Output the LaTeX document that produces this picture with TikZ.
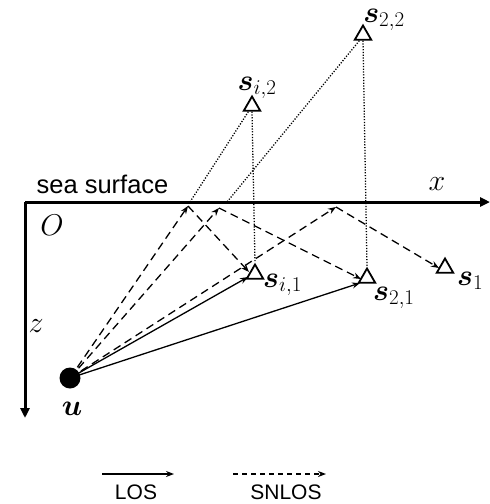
\RequirePackage{fix-cm}
\documentclass[tikz,border=0pt]{standalone}
\usepackage{amsmath,bm}
\usepackage{fontspec}
\newfontfamily\arialf{Liberation Sans}
\usetikzlibrary{arrows.meta,shapes.geometric}
\begin{document}
\begin{tikzpicture}[x=1pt,y=-1pt,
  axis/.style={line width=3pt,-{Triangle[length=10pt,width=9pt]}},
  ray/.style={line width=1.3pt,-{Stealth[length=8pt,width=6pt]}},
  sray/.style={ray,dash pattern=on 8pt off 5pt},
  dray/.style={line width=1.3pt,dash pattern=on 1.2pt off 1.6pt},
  sensor/.style={draw,line width=1.8pt,regular polygon,regular polygon sides=3,inner sep=0pt,minimum size=19pt},
  mlab/.style={font=\fontsize{30}{36}\selectfont,inner sep=0pt},
  slab/.style={font=\arialf\fontsize{25.5}{30}\selectfont,inner sep=0pt}]
\useasboundingbox (0,0) rectangle (490,504);
% axes
\coordinate (O) at (25,202);
\coordinate (xe) at (490,202);
\coordinate (ze) at (25,418);
\draw[axis] (O) -- (xe);
\draw[axis] (O) -- (ze);
\node[slab] (sea) at (102.5,184) {sea surface};
\node[mlab,anchor=base] (xl) at (437,190) {$x$};
\node[mlab,anchor=base] (Ol) at (52,235) {$O$};
\node[mlab,anchor=base] (zl) at (36,332) {$z$};
% source
\node[circle,fill=black,inner sep=0pt,minimum size=21pt] (u) at (70,378) {};
\node[mlab,anchor=base] (ul) at (72,415) {$\bm{u}$};
% sensors
\node[sensor] (si1) at (255,274) {};
\node[sensor] (s21) at (367,278) {};
\node[sensor] (s1) at (445,268) {};
\node[sensor] (si2) at (252,106) {};
\node[sensor] (s22) at (363,35) {};
\node[mlab,anchor=base west] (si1l) at (263,287) {$\bm{s}_{i,1}$};
\node[mlab,anchor=base west] (s21l) at (373,300) {$\bm{s}_{2,1}$};
\node[mlab,anchor=base west] (s1l) at (457,285) {$\bm{s}_{1}$};
\node[mlab,anchor=base] (si2l) at (257,90) {$\bm{s}_{i,2}$};
\node[mlab,anchor=base] (s22l) at (384,22) {$\bm{s}_{2,2}$};
% reflection points
\coordinate (r1) at (188,206);
\coordinate (r2) at (219,208);
\coordinate (r3) at (336,207);
\coordinate (q1) at (190,202);
\coordinate (q2) at (227,202);
% ends
\coordinate (e1) at (249,272);
\coordinate (e2) at (361,279);
\coordinate (e3) at (439,268);
\coordinate (l1) at (248,277);
\coordinate (l2) at (360,283);
% LOS
\draw[ray] (u.center) -- (l1);
\draw[ray] (u.center) -- (l2);
% SNLOS
\draw[sray] (u.center) -- (r1);
\draw[sray] (u.center) -- (r2);
\draw[sray] (u.center) -- (r3);
\draw[sray] (r1) -- (e1);
\draw[sray] (r2) -- (e2);
\draw[sray] (r3) -- (e3);
% image lines
\draw[dray] (si2.south) -- (si1.north);
\draw[dray] (s22.south) -- (s21.north);
\draw[dray] (si2.south west) ++(2,0) -- (q1);
\draw[dray] (s22.south west) ++(2,0) -- (q2);
% legend
\coordinate (a1) at (102,474);
\coordinate (a2) at (174,474);
\coordinate (b1) at (233,474);
\coordinate (b2) at (326,474);
\draw[ray] (a1) -- (a2);
\draw[sray,dash pattern=on 5pt off 4pt] (b1) -- (b2);
\node[slab,font=\arialf\fontsize{21}{25}\selectfont] (los) at (136,492) {LOS};
\node[slab,font=\arialf\fontsize{21}{25}\selectfont] (snlos) at (286,492) {SNLOS};
\end{tikzpicture}
\end{document}
